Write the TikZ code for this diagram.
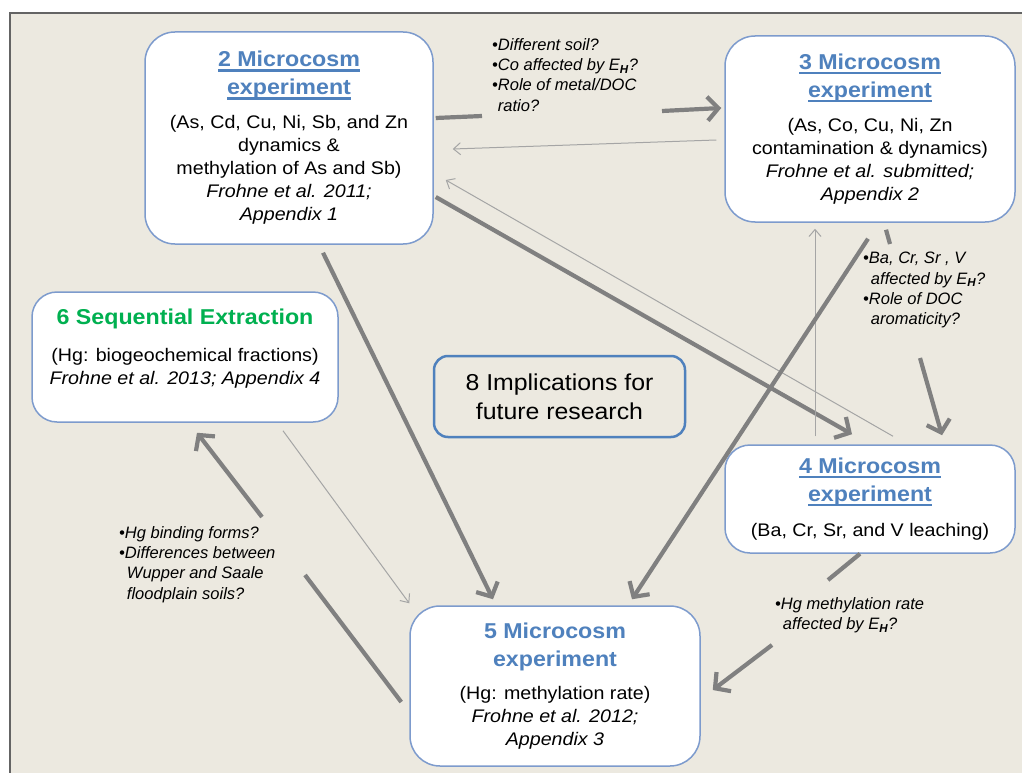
\documentclass[tikz,border=0pt]{standalone}
\usepackage{fontspec}
\setmainfont{Liberation Sans}
\newfontfamily\boxfont{Liberation Sans}[FakeStretch=1.08]
\usetikzlibrary{arrows.meta}

\definecolor{paper}{RGB}{236,233,224}
\definecolor{framegray}{RGB}{100,100,100}
\definecolor{edgeblue}{RGB}{125,155,205}
\definecolor{titleblue}{RGB}{79,129,189}
\definecolor{titlegreen}{RGB}{0,176,80}
\definecolor{arrgray}{RGB}{128,128,128}
\definecolor{thingray}{RGB}{165,165,165}

\newcommand{\exptitle}[1]{{\fontsize{21.5}{23}\selectfont\bfseries\color{titleblue}#1}}
\newcommand{\ultitle}[1]{\leavevmode\setbox0=\hbox{\exptitle{#1}}\rlap{\color{titleblue}\rule[-5pt]{\wd0}{2.5pt}}\box0}
\newcommand{\EH}{E\textsubscript{\textbf{H}}}
\newcommand{\ind}{\phantom{\textbullet}}

\tikzset{
  expbox/.style = {draw=edgeblue, line width=1.5pt, fill=white, align=center, inner sep=0,
    rounded corners=30pt, font=\boxfont\fontsize{18.2}{23}\selectfont},
  question/.style = {anchor=north west, align=left, inner sep=0,
    font=\itshape\fontsize{16.5}{20.3}\selectfont},
  bigline/.style = {draw=arrgray, line width=4.2pt},
  bigarrow/.style = {bigline, -{Straight Barb[length=11pt,width=24pt]}},
  thinarrow/.style = {draw=thingray, line width=1pt, -{Straight Barb[length=7pt,width=12pt]}}
}

\begin{document}
\begin{tikzpicture}[x=1pt, y=-1pt]
  \useasboundingbox (0,0) rectangle (1022,773);
  \fill[white] (0,0) rectangle (1022,773);
  \fill[paper] (10,13) rectangle (1022,773);
  \draw[framegray, line width=1.5pt] (10,773) -- (10,13) -- (1022,13);

  % experiments
  \node[expbox, minimum width=288pt, minimum height=212pt] (b2) at (289,138)
    {\ultitle{2 Microcosm}\\[5pt]\ultitle{experiment}\\[11pt]
     (As, Cd, Cu, Ni, Sb, and Zn\\dynamics \&\\methylation of As and Sb)\\
     \textit{Frohne et al. 2011;}\\\textit{Appendix 1}};
  \node[expbox, minimum width=290pt, minimum height=186pt] (b3) at (870,129)
    {\ultitle{3 Microcosm}\\[5pt]\ultitle{experiment}\\[11pt]
     (As, Co, Cu, Ni, Zn\\contamination \& dynamics)\\
     \textit{Frohne et al. submitted;}\\\textit{Appendix 2}};
  \node[expbox, minimum width=290pt, minimum height=108pt, rounded corners=25pt] (b4) at (870,499)
    {\ultitle{4 Microcosm}\\[5pt]\ultitle{experiment}\\[12pt]
     (Ba, Cr, Sr, and V leaching)};
  \node[expbox, minimum width=290pt, minimum height=160pt] (b5) at (555,686)
    {\exptitle{5 Microcosm}\\[5pt]\exptitle{experiment}\\[10pt]
     (Hg: methylation rate)\\\textit{Frohne et al. 2012;}\\\textit{Appendix 3}};
  \node[expbox, minimum width=306pt, minimum height=130pt, rounded corners=25pt] (b6) at (185,357)
    {{\fontsize{21.5}{23}\selectfont\bfseries\color{titlegreen}6 Sequential Extraction}\\[14pt]
     (Hg: biogeochemical fractions)\\\textit{Frohne et al. 2013; Appendix 4}\\[-2pt]\mbox{}};
  \node[expbox, draw=titleblue, line width=2.5pt, fill=paper, rounded corners=14pt,
    minimum width=251pt, minimum height=81pt, font=\boxfont\fontsize{23}{29}\selectfont] (b8) at (559.5,396.5)
    {8 Implications for\\future research};

  % questions
  \node[question] (q1) at (492,38)
    {\textbullet Different soil?\\\textbullet Co affected by \EH?\\\textbullet Role of metal/DOC\\\ind ratio?};
  \node[question] (q2) at (863,252)
    {\textbullet Ba, Cr, Sr , V\\\ind\hspace{2pt}affected by \EH?\\\textbullet Role of DOC\\\ind\hspace{2pt}aromaticity?};
  \node[question] (q3) at (119,526)
    {\textbullet Hg binding forms?\\\textbullet Differences between\\\ind\hspace{2pt}Wupper and Saale\\\ind\hspace{2pt}floodplain soils?};
  \node[question] (q4) at (775,597)
    {\textbullet Hg methylation rate\\\ind\hspace{2pt}affected by \EH?};

  % gaps round the questions
  \coordinate (g1) at (482,116);
  \coordinate (g2) at (662,111);
  \coordinate (g3) at (890,244);
  \coordinate (g4) at (920,358);
  \coordinate (g5) at (305,575);
  \coordinate (g6) at (262,517);
  \coordinate (g7) at (828,580);
  \coordinate (g8) at (772,645);

  \draw[bigline] ([shift={(2,-20)}]b2.east) -- (g1);
  \draw[bigarrow] (g2) -- ([shift={(-3,-21)}]b3.west);
  \draw[thinarrow] ([shift={(-8,11)}]b3.west) -- ([shift={(19,11)}]b2.east);
  \draw[thinarrow] ([shift={(23,-8)}]b4.north) -- ([shift={(12,42)}]b2.east);
  \draw[bigarrow] ([shift={(2,59)}]b2.east) -- ([shift={(-18,-10)}]b4.north);
  \draw[thinarrow] ([shift={(-55,-8)}]b4.north) -- ([shift={(-55,6)}]b3.south);
  \draw[bigline] ([shift={(16,7)}]b3.south) -- (g3);
  \draw[bigarrow] (g4) -- ([shift={(72,-9)}]b4.north);
  \draw[bigarrow] ([shift={(-2,16)}]b3.south) -- ([shift={(77,-6)}]b5.north);
  \draw[bigarrow] ([shift={(34,8)}]b2.south) -- ([shift={(-62,-6)}]b5.north);
  \draw[thinarrow] ([shift={(98,8)}]b6.south) -- ([shift={(0,-2)}]b5.north west);
  \draw[bigline] ([shift={(-8,16)}]b5.west) -- (g5);
  \draw[bigarrow] (g6) -- ([shift={(12,10)}]b6.south);
  \draw[bigline] ([shift={(-10,0)}]b4.south) -- (g7);
  \draw[bigarrow] (g8) -- ([shift={(12,4)}]b5.east);
\end{tikzpicture}
\end{document}
